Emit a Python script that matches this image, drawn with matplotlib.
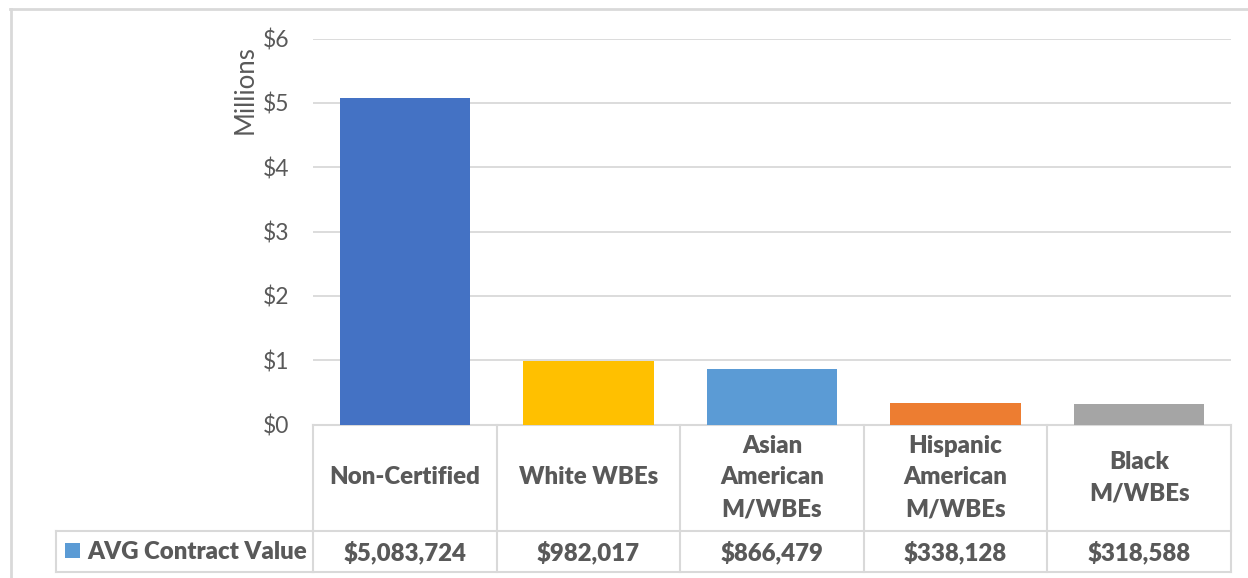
import matplotlib.pyplot as plt
from matplotlib.lines import Line2D
from matplotlib.patches import Rectangle
from matplotlib.transforms import blended_transform_factory

categories = ["Non-Certified", "White WBEs", "Asian\nAmerican\nM/WBEs",
              "Hispanic\nAmerican\nM/WBEs", "Black\nM/WBEs"]
values = [5083724, 982017, 866479, 338128, 318588]
colors = ["#4472C4", "#FFC000", "#5B9BD5", "#ED7D31", "#A5A5A5"]
series_name = "AVG Contract Value"
series_color = "#5B9BD5"
yticks = [0, 1, 2, 3, 4, 5, 6]

TXT = "#595959"
GRID = "#D9D9D9"
plt.rcParams["font.family"] = ["Lato", "DejaVu Sans"]

W, H = 1248, 578
fig = plt.figure(figsize=(W / 100, H / 100), dpi=100)


def fy(py):
    return 1 - py / H


ax = fig.add_axes([313 / W, fy(424.5), (1231 - 313) / W, (424.5 - 38.7) / H])
x = list(range(len(categories)))
ax.bar(x, [v / 1e6 for v in values], width=0.71, color=colors, zorder=3)
ax.set_xlim(-0.5, len(categories) - 0.5)
ax.set_ylim(0, 6)
ax.set_yticks(yticks)
ax.set_yticklabels([f"${t}" for t in yticks])
ax.tick_params(axis="y", length=0, pad=17, labelsize=16.5, labelcolor=TXT)
ax.set_xticks([])
ax.yaxis.grid(True, color=GRID, lw=1.3)
for s in ax.spines.values():
    s.set_visible(False)

fig.text(245 / W, fy(90), "Millions", rotation=90, ha="center", va="center",
         fontsize=18.5, color=TXT)

# data table below the plot
tr = blended_transform_factory(ax.transData, fig.transFigure)
edges = [i - 0.5 for i in range(len(categories) + 1)]
for e in edges:
    ax.add_line(Line2D([e, e], [fy(424.5), fy(572)], transform=tr,
                       color=GRID, lw=1.5, clip_on=False))
for py in (424.5, 531, 572):
    ax.add_line(Line2D([edges[0], edges[-1]], [fy(py), fy(py)], transform=tr,
                       color=GRID, lw=1.5, clip_on=False))
# legend cell
for py in (531, 572):
    fig.add_artist(Line2D([56 / W, 313 / W], [fy(py), fy(py)], color=GRID, lw=1.5))
fig.add_artist(Line2D([56 / W, 56 / W], [fy(531), fy(572)], color=GRID, lw=1.5))
fig.add_artist(Rectangle((65 / W, fy(558)), 15 / W, 15 / H, color=series_color, lw=0))
fig.text(87 / W, fy(552), series_name, ha="left", va="center",
         fontsize=17.3, fontweight="heavy", color=TXT)

for i, (c, v) in enumerate(zip(categories, values)):
    ax.text(i, fy(477.5), c, transform=tr, ha="center", va="center",
            fontsize=17.3, fontweight="heavy", color=TXT, linespacing=1.55)
    ax.text(i, fy(552), f"${v:,}", transform=tr, ha="center", va="center",
            fontsize=17.3, fontweight="heavy", color=TXT)

# chart area border
fig.add_artist(Line2D([10 / W, 1], [fy(9), fy(9)], color=GRID, lw=2))
fig.add_artist(Line2D([11 / W, 11 / W], [fy(9), 0], color=GRID, lw=2))

fig.savefig("out.png", dpi=100)
